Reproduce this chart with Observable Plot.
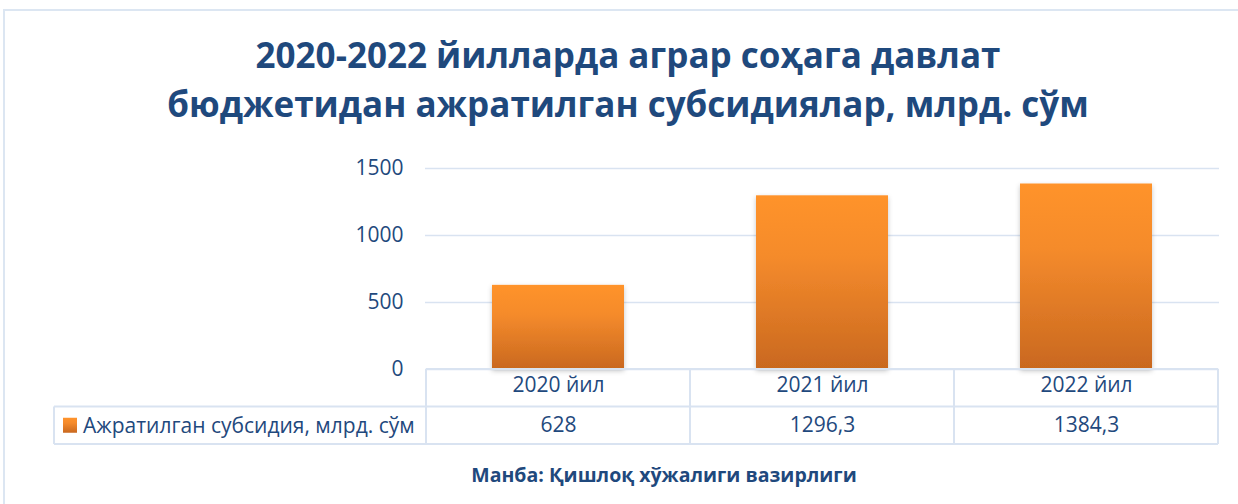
<!DOCTYPE html>
<html>
<head>
<meta charset="utf-8">
<script src="https://cdn.jsdelivr.net/npm/d3@7"></script>
<script src="https://cdn.jsdelivr.net/npm/@observablehq/plot@0.6"></script>
<style>
  html, body { margin: 0; padding: 0; background: #fff; }
  #wrap { position: relative; width: 1238px; height: 504px; overflow: hidden; font-family: "Open Sans", "Noto Sans", sans-serif; }
  #frame { position: absolute; left: 3px; top: 9px; width: 1300px; height: 600px; border-left: 2px solid #dce6f2; border-top: 2px solid #dce6f2; }
  #title { position: absolute; left: 0; top: 0; width: 1256px; text-align: center; color: #1f497d; font-weight: 700; font-size: 35px; line-height: 49px; padding-top: 30px; white-space: nowrap; }
  #chart { position: absolute; left: 0; top: 150px; }
  #source { position: absolute; left: 0; width: 1328px; top: 461px; text-align: center; color: #1f497d; font-weight: 700; font-size: 19.5px; white-space: nowrap; }
</style>
</head>
<body>
<div id="wrap">
  <div id="frame"></div>
  <div id="title"></div>
  <div id="chart"></div>
  <div id="source"></div>
</div>
<script>
const titleLines = ["2020-2022 йилларда аграр соҳага давлат", "бюджетидан ажратилган субсидиялар, млрд. сўм"];
const categories = ["2020 йил", "2021 йил", "2022 йил"];
const values = [628, 1296.3, 1384.3];
const valueLabels = ["628", "1296,3", "1384,3"];
const seriesName = "Ажратилган субсидия, млрд. сўм";
const yTicks = [0, 500, 1000, 1500];
const sourceText = "Манба: Қишлоқ хўжалиги вазирлиги";

document.getElementById("title").innerHTML = titleLines.join("<br>");
document.getElementById("source").textContent = sourceText;

const data = categories.map((c, i) => ({cat: c, value: values[i], label: valueLabels[i]}));
const textColor = "#1f497d";
const lineColor = "#d9e3f1";
const font = "'Open Sans', 'Noto Sans', sans-serif";

const defs = () => {
  const d = d3.create("svg:defs");
  const g = d.append("linearGradient").attr("id", "barGrad").attr("x1", 0).attr("y1", 0).attr("x2", 0).attr("y2", 1);
  g.append("stop").attr("offset", "0%").attr("stop-color", "#ff932c");
  g.append("stop").attr("offset", "35%").attr("stop-color", "#f58b2c");
  g.append("stop").attr("offset", "100%").attr("stop-color", "#c9681f");
  const f = d.append("filter").attr("id", "shadow").attr("x", "-20%").attr("y", "-20%").attr("width", "140%").attr("height", "140%");
  f.append("feDropShadow").attr("dx", 0).attr("dy", 2).attr("stdDeviation", 2.5).attr("flood-color", "#000").attr("flood-opacity", 0.22);
  return d.node();
};

const plot = Plot.plot({
  width: 1238,
  height: 354,
  marginTop: 18,
  marginBottom: 135,
  marginLeft: 425,
  marginRight: 19,
  style: { fontFamily: font, color: textColor, background: "transparent", overflow: "visible" },
  x: { domain: categories, paddingInner: 0.5, paddingOuter: 0.25, label: null },
  y: { domain: [0, 1500], label: null },
  marks: [
    defs,
    Plot.gridY(yTicks, { stroke: lineColor, strokeOpacity: 1, strokeWidth: 1.5 }),
    Plot.axisY(yTicks, { tickSize: 0, tickPadding: 22, fontSize: 21, fill: textColor, label: null, tickFormat: d => String(d) }),
    Plot.barY(data, { x: "cat", y: "value", fill: "url(#barGrad)" }),
    Plot.axisX({ tickSize: 0, tickPadding: 8, fontSize: 21, fill: textColor, label: null }),
    Plot.text(data, { x: "cat", y: () => 0, text: "label", dy: 56, fontSize: 21, fill: textColor })
  ]
});

// shadow on bars
d3.select(plot).selectAll("g[fill='url(#barGrad)']").attr("filter", "url(#shadow)");

// table grid using the plot's scales
const xs = plot.scale("x");
const ys = plot.scale("y");
const step = xs.step, bw = xs.bandwidth;
const edges = categories.map(c => xs.apply(c) - (step - bw) / 2);
edges.push(edges[edges.length - 1] + step);
const y0 = ys.apply(0);
const rowH = 37.5;
const legendLeft = 54;
const svg = d3.select(plot);
const tg = svg.append("g").attr("stroke", lineColor).attr("stroke-width", 2).attr("fill", "none");
edges.forEach(x => tg.append("line").attr("x1", x).attr("x2", x).attr("y1", y0).attr("y2", y0 + 2 * rowH));
tg.append("line").attr("x1", edges[0]).attr("x2", edges[edges.length-1]).attr("y1", y0).attr("y2", y0);
tg.append("line").attr("x1", legendLeft).attr("x2", edges[edges.length-1]).attr("y1", y0 + rowH).attr("y2", y0 + rowH);
tg.append("line").attr("x1", legendLeft).attr("x2", edges[edges.length-1]).attr("y1", y0 + 2 * rowH).attr("y2", y0 + 2 * rowH);
tg.append("line").attr("x1", legendLeft).attr("x2", legendLeft).attr("y1", y0 + rowH).attr("y2", y0 + 2 * rowH);

// legend swatch and label
svg.append("rect").attr("x", 63).attr("y", y0 + rowH * 1.5 - 7.5).attr("width", 14).attr("height", 15).attr("fill", "url(#barGrad)");
svg.append("text").attr("x", 83).attr("y", y0 + rowH * 1.5).attr("dy", "0.35em").attr("text-anchor", "start")
  .attr("font-size", 21).attr("fill", textColor).attr("font-family", font).text(seriesName);

document.getElementById("chart").appendChild(plot);
</script>
</body>
</html>
